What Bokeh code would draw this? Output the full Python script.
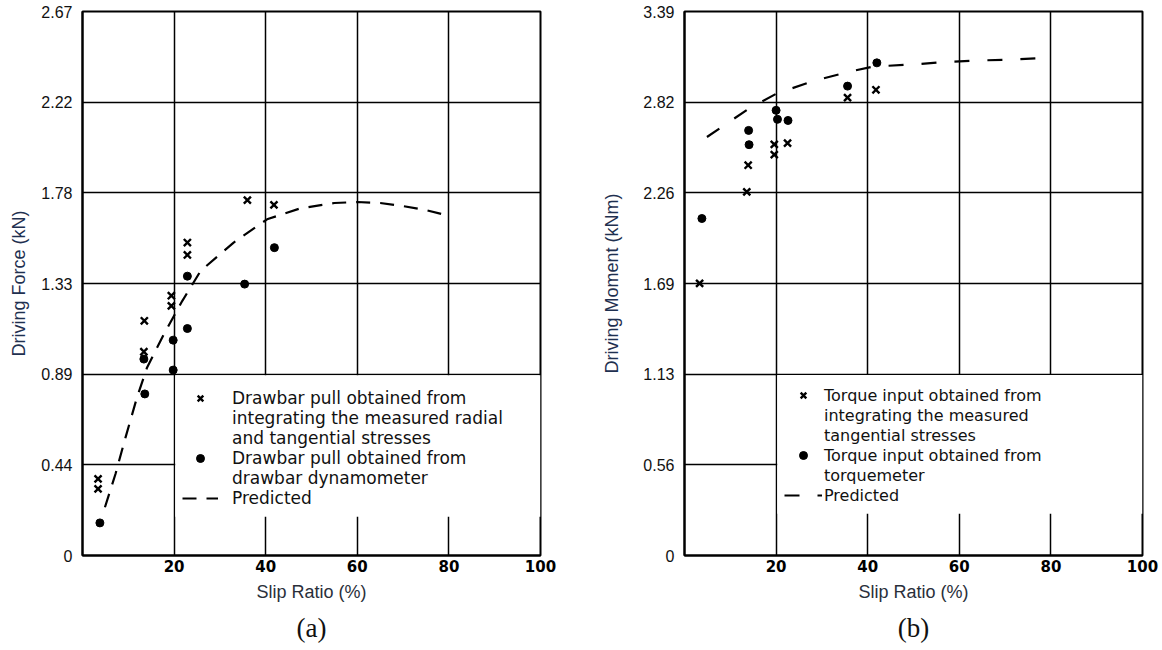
from bokeh.plotting import figure
from bokeh.layouts import row
from bokeh.models import Range1d, FixedTicker, Legend, LegendItem, BoxAnnotation
from bokeh.embed import file_html
from bokeh.resources import INLINE

# ---------------- Panel (a): Driving force ----------------
a_cross_slip = [3.4, 3.4, 13.5, 13.4, 19.4, 19.4, 22.9, 22.9, 36.0, 41.8]
a_cross_force = [0.376, 0.327, 1.152, 1.000, 1.275, 1.225, 1.536, 1.475, 1.744, 1.721]
a_dot_slip = [3.8, 13.4, 13.6, 19.8, 19.8, 22.9, 22.9, 35.4, 41.9]
a_dot_force = [0.160, 0.964, 0.793, 1.057, 0.910, 1.114, 1.371, 1.332, 1.511]
a_pred_slip = [4.9, 7.2, 9.4, 11.9, 14.1, 17.8, 21.8, 25.8, 33.0, 40.3, 47.6, 55, 60, 65, 70, 75, 80]
a_pred_force = [0.237, 0.40, 0.58, 0.776, 0.923, 1.087, 1.25, 1.397, 1.536, 1.65, 1.704,
                1.73, 1.735, 1.73, 1.715, 1.695, 1.667]
a_y_ticks = [0, 0.445, 0.89, 1.335, 1.78, 2.225, 2.67]
a_y_labels = ["0", "0.44", "0.89", "1.33", "1.78", "2.22", "2.67"]
a_legend = [["Drawbar pull obtained from", "integrating the measured radial", "and tangential stresses"],
            ["Drawbar pull obtained from", "drawbar dynamometer"],
            ["Predicted"]]

# ---------------- Panel (b): Driving moment ----------------
b_cross_slip = [3.3, 13.6, 13.9, 19.6, 19.6, 22.5, 35.6, 41.8]
b_cross_moment = [1.696, 2.266, 2.432, 2.562, 2.498, 2.570, 2.853, 2.902]
b_dot_slip = [3.8, 14.0, 14.1, 20.0, 20.3, 22.6, 35.6, 42.0]
b_dot_moment = [2.10, 2.649, 2.560, 2.774, 2.718, 2.711, 2.925, 3.07]
b_pred_slip = [4.9, 14.0, 20.2, 28.5, 36.2, 41.2, 50, 56, 64, 71, 80]
b_pred_moment = [2.608, 2.784, 2.88, 2.96, 3.016, 3.047, 3.06, 3.074, 3.085, 3.089, 3.103]
b_y_ticks = [0, 0.565, 1.13, 1.695, 2.26, 2.825, 3.39]
b_y_labels = ["0", "0.56", "1.13", "1.69", "2.26", "2.82", "3.39"]
b_legend = [["Torque input obtained from", "integrating the measured", "tangential stresses"],
            ["Torque input obtained from", "torquemeter"],
            ["Predicted"]]

x_ticks = [20, 40, 60, 80, 100]

TICK_FONT = "Liberation Sans"
LEG_FONT = "DejaVu Sans"


def make_panel(width, border_left, border_right, border_top, border_bottom,
               y_max, y_ticks, y_labels, y_title, caption,
               cx, cy, dx, dy, px, py, dash,
               legend_lines, legend_loc, legend_font_size, legend_standoff, glyph_w,
               box_bottom, box_top, ylabel_standoff):
    p = figure(width=width, height=650, output_backend="svg", toolbar_location=None,
               x_range=Range1d(0, 100), y_range=Range1d(0, y_max),
               min_border_left=border_left, min_border_right=border_right,
               min_border_top=border_top, min_border_bottom=border_bottom,
               title=caption, title_location="below")
    p.title.align = "center"
    p.title.text_font = "Liberation Serif"
    p.title.text_font_size = "27px"
    p.title.text_font_style = "normal"
    p.title.text_color = "#111111"
    p.title.standoff = 13

    p.outline_line_color = "black"
    p.outline_line_width = 2
    p.background_fill_color = "white"
    p.border_fill_color = "white"

    p.xaxis.ticker = FixedTicker(ticks=x_ticks)
    p.yaxis.ticker = FixedTicker(ticks=y_ticks)
    p.yaxis.major_label_overrides = {t: l for t, l in zip(y_ticks, y_labels)}

    for ax in (p.xaxis[0], p.yaxis[0]):
        ax.axis_line_color = "black"
        ax.axis_line_width = 2
        ax.major_tick_line_color = None
        ax.minor_tick_line_color = None
        ax.axis_label_text_font = TICK_FONT
        ax.axis_label_text_font_style = "normal"
        ax.axis_label_text_font_size = "18px"
    p.xaxis.axis_label = "Slip Ratio (%)"
    p.xaxis.axis_label_text_color = "#2a2f3a"
    p.xaxis.major_label_text_font = LEG_FONT
    p.xaxis.major_label_text_font_style = "bold"
    p.xaxis.major_label_text_font_size = "15px"
    p.xaxis.major_label_text_color = "black"
    p.xaxis.major_label_standoff = -2
    p.xaxis.axis_label_standoff = 7

    p.yaxis.axis_label = y_title
    p.yaxis.axis_label_text_color = "#1f3050"
    p.yaxis.major_label_text_font = TICK_FONT
    p.yaxis.major_label_text_font_size = "16px"
    p.yaxis.major_label_text_color = "#111111"
    p.yaxis.major_label_standoff = 4
    p.yaxis.axis_label_standoff = ylabel_standoff

    p.xgrid.ticker = FixedTicker(ticks=x_ticks)
    p.ygrid.ticker = FixedTicker(ticks=y_ticks)
    for g in (p.xgrid[0], p.ygrid[0]):
        g.grid_line_color = "black"
        g.grid_line_width = 1.5
        g.grid_line_alpha = 1.0

    # white legend area that interrupts the grid
    box = BoxAnnotation(left=20.25, right=100, bottom=box_bottom, top=box_top,
                        fill_color="white", fill_alpha=1.0, line_color=None,
                        level="underlay")
    p.add_layout(box)

    r_pred = p.line(px, py, line_color="black", line_width=2.2, line_dash=dash)
    r_cross = p.scatter(cx, cy, marker="x", size=10, line_color="black", line_width=2.4)
    r_dot = p.scatter(dx, dy, marker="circle", size=8, fill_color="black", line_color="black")

    items = []
    for rend, lines in zip([r_cross, r_dot, r_pred], legend_lines):
        items.append(LegendItem(label=lines[0], renderers=[rend]))
        for extra in lines[1:]:
            items.append(LegendItem(label=extra, renderers=[]))
    legend = Legend(items=items, location=legend_loc)
    legend.border_line_color = None
    legend.background_fill_alpha = 0
    legend.label_text_font = LEG_FONT
    legend.label_text_font_size = legend_font_size
    legend.label_text_color = "#111111"
    legend.label_text_line_height = 1.0
    legend.label_standoff = legend_standoff
    legend.glyph_width = glyph_w
    legend.glyph_height = 20
    legend.label_height = 20
    legend.spacing = 0
    legend.padding = 10
    legend.margin = 0
    p.add_layout(legend)
    return p


pa = make_panel(580, 82, 40, 10, 95, 2.67, a_y_ticks, a_y_labels, "Driving Force (kN)", "(a)",
                a_cross_slip, a_cross_force, a_dot_slip, a_dot_force,
                a_pred_slip, a_pred_force, "14 10",
                a_legend, (100, 47), "17px", 14, 36, 0.19, 0.885, 9)

pb = make_panel(582, 104, 20, 11, 94, 3.39, b_y_ticks, b_y_labels, "Driving Moment (kNm)", "(b)",
                b_cross_slip, b_cross_moment, b_dot_slip, b_dot_moment,
                b_pred_slip, b_pred_moment, "15 18",
                b_legend, (100, 50), "16px", 2, 38, 0.26, 1.125, 18)

layout = row(pa, pb)
open("out.html", "w").write(file_html(layout, INLINE))
